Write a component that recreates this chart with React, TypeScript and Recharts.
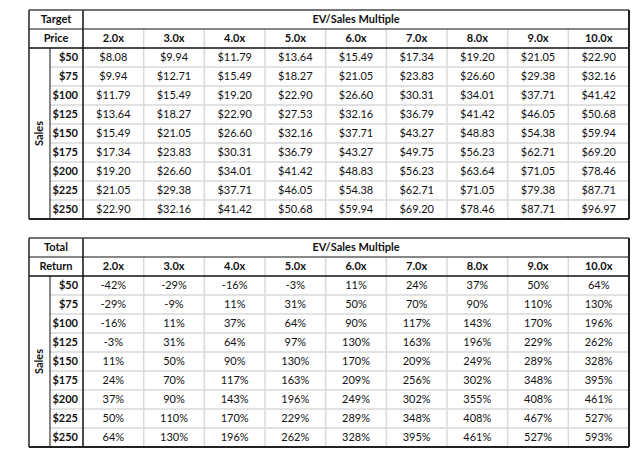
import React from "react";
import { ScatterChart, Scatter, XAxis, YAxis, ReferenceLine } from "recharts";

// ---- data ----
const multiples = ["2.0x", "3.0x", "4.0x", "5.0x", "6.0x", "7.0x", "8.0x", "9.0x", "10.0x"];
const salesLabels = ["$50", "$75", "$100", "$125", "$150", "$175", "$200", "$225", "$250"];

const targetPrice: number[][] = [
  [8.08, 9.94, 11.79, 13.64, 15.49, 17.34, 19.2, 21.05, 22.9],
  [9.94, 12.71, 15.49, 18.27, 21.05, 23.83, 26.6, 29.38, 32.16],
  [11.79, 15.49, 19.2, 22.9, 26.6, 30.31, 34.01, 37.71, 41.42],
  [13.64, 18.27, 22.9, 27.53, 32.16, 36.79, 41.42, 46.05, 50.68],
  [15.49, 21.05, 26.6, 32.16, 37.71, 43.27, 48.83, 54.38, 59.94],
  [17.34, 23.83, 30.31, 36.79, 43.27, 49.75, 56.23, 62.71, 69.2],
  [19.2, 26.6, 34.01, 41.42, 48.83, 56.23, 63.64, 71.05, 78.46],
  [21.05, 29.38, 37.71, 46.05, 54.38, 62.71, 71.05, 79.38, 87.71],
  [22.9, 32.16, 41.42, 50.68, 59.94, 69.2, 78.46, 87.71, 96.97],
];

const totalReturn: number[][] = [
  [-42, -29, -16, -3, 11, 24, 37, 50, 64],
  [-29, -9, 11, 31, 50, 70, 90, 110, 130],
  [-16, 11, 37, 64, 90, 117, 143, 170, 196],
  [-3, 31, 64, 97, 130, 163, 196, 229, 262],
  [11, 50, 90, 130, 170, 209, 249, 289, 328],
  [24, 70, 117, 163, 209, 256, 302, 348, 395],
  [37, 90, 143, 196, 249, 302, 355, 408, 461],
  [50, 110, 170, 229, 289, 348, 408, 467, 527],
  [64, 130, 196, 262, 328, 395, 461, 527, 593],
];

const tableTitles = [
  ["Target", "Price"],
  ["Total", "Return"],
];
const columnTitle = "EV/Sales Multiple";
const rowTitle = "Sales";

// ---- layout (in table cell units) ----
const W = 640;
const H = 454;
const X_DOMAIN: [number, number] = [-1.368, 9.181];
const Y_DOMAIN: [number, number] = [-0.526, 23.368];
const LEFT = -0.89;
const SPLIT = -0.544;
const RIGHT = 9;
const TABLE_TOPS = [0, 12];

const FONT = "Lato, 'Noto Sans', sans-serif";
const FS = 11;
const TXT = "#111";

type Cell = { x: number; y: number; label: string; bold?: boolean; anchor?: string; rotate?: boolean };

const fmtPrice = (v: number) => "$" + v.toFixed(2);
const fmtPct = (v: number) => v + "%";

const cells: Cell[] = [];
[targetPrice, totalReturn].forEach((table, t) => {
  const top = TABLE_TOPS[t];
  const fmt = t === 0 ? fmtPrice : fmtPct;
  cells.push({ x: (LEFT + 0) / 2, y: top + 0.5, label: tableTitles[t][0], bold: true });
  cells.push({ x: (LEFT + 0) / 2, y: top + 1.5, label: tableTitles[t][1], bold: true });
  cells.push({ x: RIGHT / 2, y: top + 0.5, label: columnTitle, bold: true });
  cells.push({ x: (LEFT + SPLIT) / 2, y: top + 2 + 4.5, label: rowTitle, bold: true, rotate: true });
  multiples.forEach((m, c) => cells.push({ x: c + 0.5, y: top + 1.5, label: m, bold: true }));
  salesLabels.forEach((s, r) => cells.push({ x: -0.082, y: top + 2.5 + r, label: s, bold: true, anchor: "end" }));
  table.forEach((row, r) =>
    row.forEach((v, c) => cells.push({ x: c + 0.5, y: top + 2.5 + r, label: fmt(v) }))
  );
});

type Seg = { x1: number; y1: number; x2: number; y2: number; color: string; w: number };
const segs: Seg[] = [];
TABLE_TOPS.forEach((top) => {
  const bottom = top + 11;
  for (let r = 3; r <= 10; r++) segs.push({ x1: SPLIT, y1: top + r, x2: RIGHT, y2: top + r, color: "#d9d9d9", w: 1.5 });
  for (let c = 1; c <= 8; c++) segs.push({ x1: c, y1: top + 1, x2: c, y2: bottom, color: "#d9d9d9", w: 1.5 });
  segs.push({ x1: LEFT, y1: top + 1, x2: RIGHT, y2: top + 1, color: "#111", w: 1 });
  segs.push({ x1: LEFT, y1: top + 2, x2: RIGHT, y2: top + 2, color: "#111", w: 1.5 });
  segs.push({ x1: 0, y1: top, x2: 0, y2: bottom, color: "#111", w: 1.5 });
  segs.push({ x1: SPLIT, y1: top + 2, x2: SPLIT, y2: bottom, color: "#111", w: 1 });
  segs.push({ x1: LEFT, y1: top, x2: RIGHT, y2: top, color: "#444", w: 1.5 });
  segs.push({ x1: LEFT, y1: top, x2: LEFT, y2: bottom, color: "#222", w: 1.5 });
  segs.push({ x1: RIGHT, y1: top, x2: RIGHT, y2: bottom, color: "#222", w: 2 });
  segs.push({ x1: LEFT, y1: bottom, x2: RIGHT, y2: bottom, color: "#222", w: 2 });
});

const CellText = (props: any) => {
  const { cx, cy, payload } = props;
  if (cx == null || cy == null) return null;
  const p = payload as Cell;
  return (
    <text
      x={cx}
      y={cy}
      dy={FS * 0.36}
      textAnchor={p.anchor || "middle"}
      fontFamily={FONT}
      fontSize={FS}
      fontWeight={p.bold ? 700 : 400}
      fill={TXT}
      transform={p.rotate ? `rotate(-90 ${cx} ${cy})` : undefined}
    >
      {p.label}
    </text>
  );
};

export default function App() {
  return (
    <div style={{ position: "absolute", left: 0, top: 0, width: W, height: H, background: "#fff" }}>
      <ScatterChart width={W} height={H} margin={{ top: 0, right: 0, bottom: 0, left: 0 }}>
        <XAxis type="number" dataKey="x" domain={X_DOMAIN} hide allowDataOverflow />
        <YAxis type="number" dataKey="y" domain={Y_DOMAIN} reversed hide allowDataOverflow />
        {segs.map((s, i) => (
          <ReferenceLine
            key={i}
            segment={[
              { x: s.x1, y: s.y1 },
              { x: s.x2, y: s.y2 },
            ]}
            stroke={s.color}
            strokeWidth={s.w}
            ifOverflow="visible"
          />
        ))}
        <Scatter data={cells} shape={CellText} isAnimationActive={false} />
      </ScatterChart>
    </div>
  );
}
